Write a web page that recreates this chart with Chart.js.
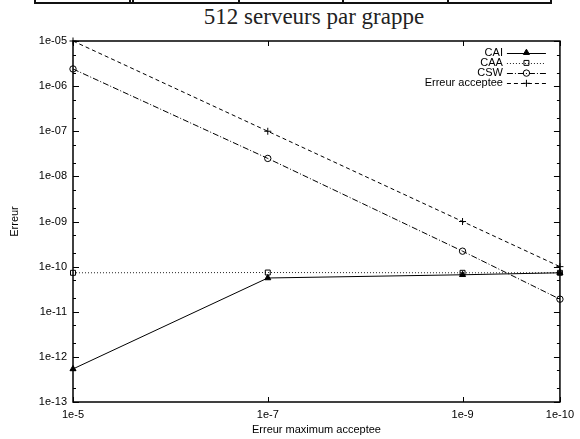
<!DOCTYPE html>
<html><head><meta charset="utf-8">
<script src="https://cdn.jsdelivr.net/npm/chart.js@4.4.0/dist/chart.umd.min.js"></script>
<style>
html,body{margin:0;padding:0;background:#fff;}
#wrap{position:relative;width:580px;height:439px;overflow:hidden;background:#fff;}
#c{position:absolute;left:0;top:0;}
.tl{position:absolute;background:#111;}
#title{position:absolute;top:6px;left:24px;width:580px;text-align:center;font-family:"Liberation Serif","Times New Roman",serif;font-size:23px;line-height:22px;color:#222;white-space:nowrap;}
</style></head>
<body>
<div id="wrap">
  <div class="tl" style="left:35px;top:2px;width:517px;height:2px"></div>
  <div class="tl" style="left:34px;top:0;width:2px;height:4px"></div>
  <div class="tl" style="left:129px;top:0;width:2px;height:4px"></div>
  <div class="tl" style="left:132px;top:0;width:2px;height:4px"></div>
  <div class="tl" style="left:238px;top:0;width:2px;height:4px"></div>
  <div class="tl" style="left:342px;top:0;width:2px;height:4px"></div>
  <div class="tl" style="left:447px;top:0;width:2px;height:4px"></div>
  <div class="tl" style="left:550px;top:0;width:2px;height:4px"></div>
  <div id="title">512 serveurs par grappe</div>
  <canvas id="c" width="580" height="439"></canvas>
</div>
<script>
const xValues = [1e-5, 1e-7, 1e-9, 1e-10];
const xTickLabels = ['1e-5', '1e-7', '1e-9', '1e-10'];
const yTickValues = [1e-13, 1e-12, 1e-11, 1e-10, 1e-9, 1e-8, 1e-7, 1e-6, 1e-5];
const yTickLabels = ['1e-13', '1e-12', '1e-11', '1e-10', '1e-09', '1e-08', '1e-07', '1e-06', '1e-05'];
const yMinorFactors = [2, 5];
const seriesNames = ['CAI', 'CAA', 'CSW', 'Erreur acceptee'];
const caiValues = [5.4e-13, 5.6e-11, 6.6e-11, 7.3e-11];
const caaValues = [7.3e-11, 7.4e-11, 7.3e-11, 7.3e-11];
const cswValues = [2.4e-6, 2.5e-8, 2.2e-10, 1.9e-11];
const accepteeValues = [1e-5, 1e-7, 1e-9, 1e-10];

const FONT = {family: 'Liberation Sans, Arial, Helvetica, sans-serif', size: 11};
const pts = arr => arr.map((v, i) => ({x: xValues[i], y: v}));
const sameLog = (a, b) => Math.abs(Math.log10(a) - Math.log10(b)) < 1e-6;

const datasets = [
  {label: seriesNames[0], data: pts(caiValues), borderColor: '#000', borderWidth: 1, borderDash: [],
   pointStyle: 'triangle', pointRadius: 3.5, pointBackgroundColor: '#000', pointBorderColor: '#000', pointBorderWidth: 1},
  {label: seriesNames[1], data: pts(caaValues), borderColor: '#222', borderWidth: 1, borderDash: [1, 2],
   pointStyle: 'rect', pointRadius: 3.5, pointBackgroundColor: 'rgba(0,0,0,0)', pointBorderColor: '#000', pointBorderWidth: 1},
  {label: seriesNames[2], data: pts(cswValues), borderColor: '#000', borderWidth: 1, borderDash: [6, 2, 1, 2],
   pointStyle: 'circle', pointRadius: 3.2, pointBackgroundColor: 'rgba(0,0,0,0)', pointBorderColor: '#000', pointBorderWidth: 1},
  {label: seriesNames[3], data: pts(accepteeValues), borderColor: '#000', borderWidth: 1, borderDash: [4, 3],
   pointStyle: 'cross', pointRadius: 3.5, pointBackgroundColor: '#000', pointBorderColor: '#000', pointBorderWidth: 1}
];
datasets.forEach(d => { d.fill = false; d.tension = 0; d.clip = false; d.pointHoverRadius = d.pointRadius; });

const framePlugin = {
  id: 'frame',
  beforeDatasetsDraw(chart) {
    const {ctx, chartArea: a, scales} = chart;
    ctx.save();
    ctx.strokeStyle = '#000';
    ctx.lineWidth = 1.5;
    ctx.setLineDash([]);
    ctx.strokeRect(a.left, a.top, a.right - a.left, a.bottom - a.top);
    ctx.lineWidth = 1;
    scales.y.ticks.forEach(t => {
      const major = yTickValues.some(v => sameLog(v, t.value));
      const len = major ? 6 : 3;
      const y = Math.round(scales.y.getPixelForValue(t.value)) + 0.5;
      ctx.beginPath();
      ctx.moveTo(a.left, y); ctx.lineTo(a.left + len, y);
      ctx.moveTo(a.right, y); ctx.lineTo(a.right - len, y);
      ctx.stroke();
    });
    scales.x.ticks.forEach(t => {
      const x = Math.round(scales.x.getPixelForValue(t.value)) + 0.5;
      ctx.beginPath();
      ctx.moveTo(x, a.bottom); ctx.lineTo(x, a.bottom - 5);
      ctx.moveTo(x, a.top); ctx.lineTo(x, a.top + 5);
      ctx.stroke();
    });
    ctx.restore();
  }
};

const legendPlugin = {
  id: 'gpLegend',
  afterDraw(chart) {
    const {ctx, chartArea: a} = chart;
    ctx.save();
    ctx.font = FONT.size + 'px ' + FONT.family;
    ctx.textAlign = 'right';
    ctx.textBaseline = 'middle';
    chart.data.datasets.forEach((d, i) => {
      const y = a.top + 11.7 + i * 10.2;
      ctx.fillStyle = '#000';
      ctx.fillText(d.label, a.right - 57, y);
      ctx.strokeStyle = d.borderColor;
      ctx.lineWidth = d.borderWidth;
      ctx.setLineDash(d.borderDash);
      ctx.beginPath();
      ctx.moveTo(a.right - 53, Math.round(y) + 0.5);
      ctx.lineTo(a.right - 14, Math.round(y) + 0.5);
      ctx.stroke();
      ctx.setLineDash([]);
      ctx.fillStyle = d.pointBackgroundColor;
      ctx.strokeStyle = d.pointBorderColor;
      Chart.helpers.drawPoint(ctx, {pointStyle: d.pointStyle, radius: d.pointRadius, rotation: 0, borderWidth: 1}, a.right - 33.5, y);
    });
    ctx.restore();
  }
};

new Chart(document.getElementById('c'), {
  type: 'line',
  data: {datasets},
  options: {
    responsive: false,
    animation: false,
    events: [],
    layout: {padding: {left: 0, top: 41, right: 14, bottom: 0}},
    plugins: {legend: {display: false}, tooltip: {enabled: false}, title: {display: false}},
    scales: {
      x: {
        type: 'logarithmic', reverse: true, min: 1e-10, max: 1e-5, position: 'bottom',
        grid: {display: false, drawTicks: false}, border: {display: false},
        afterBuildTicks: s => { s.ticks = xValues.map(v => ({value: v})); },
        afterFit: s => { s.height = 37; },
        ticks: {
          autoSkip: false, maxRotation: 0, minRotation: 0, padding: 6, color: '#000', font: FONT,
          callback: v => { const i = xValues.findIndex(x => sameLog(x, v)); return i >= 0 ? xTickLabels[i] : ''; }
        },
        title: {display: true, text: 'Erreur maximum acceptee', color: '#000', font: FONT, padding: {top: 0, bottom: 2}}
      },
      y: {
        type: 'logarithmic', min: 1e-13, max: 1e-5,
        grid: {display: false, drawTicks: false}, border: {display: false},
        afterBuildTicks: s => {
          const t = [];
          yTickValues.forEach((v, i) => {
            t.push({value: v});
            if (i < yTickValues.length - 1) yMinorFactors.forEach(f => t.push({value: v * f}));
          });
          s.ticks = t;
        },
        afterFit: s => { s.width = 73; },
        ticks: {
          autoSkip: false, padding: 6, color: '#000', font: FONT,
          callback: v => { const i = yTickValues.findIndex(x => sameLog(x, v)); return i >= 0 ? yTickLabels[i] : ''; }
        },
        title: {display: true, text: 'Erreur', color: '#000', font: FONT, padding: {top: 8, bottom: 0}}
      }
    }
  },
  plugins: [framePlugin, legendPlugin]
});
</script>
</body></html>
